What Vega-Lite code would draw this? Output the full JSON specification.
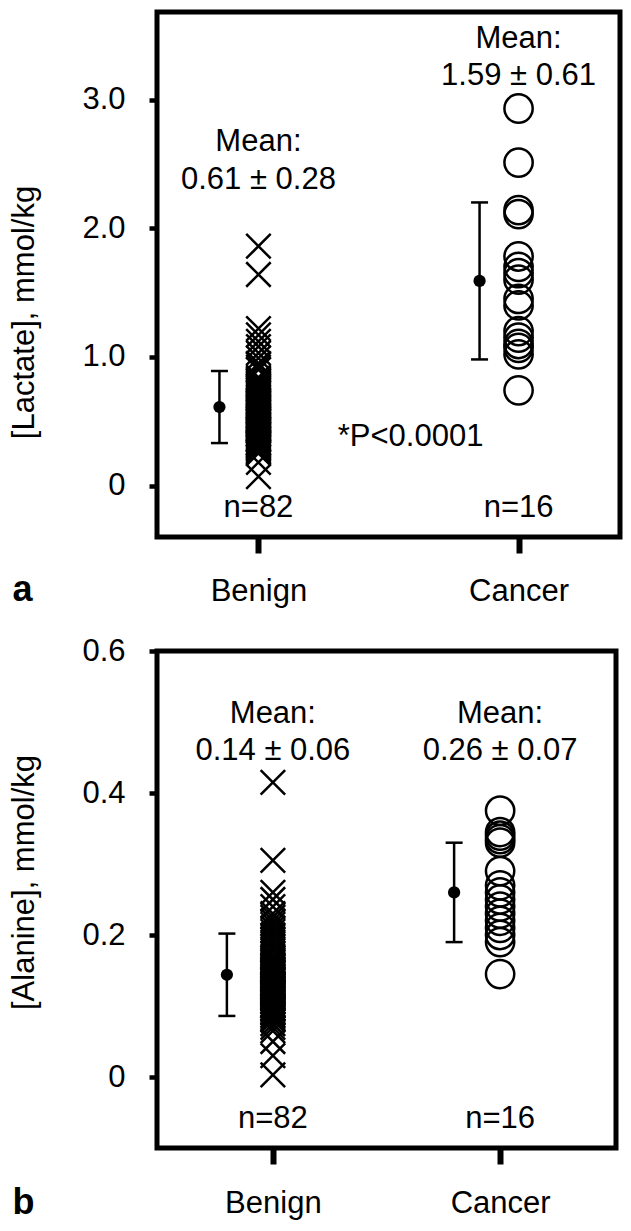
{
  "$schema": "https://vega.github.io/schema/vega-lite/v6.json",
  "autosize": {"type": "none"},
  "padding": {"left": 157, "top": 12, "right": 474, "bottom": 1219},
  "background": "white",
  "bounds": "flush",
  "spacing": 114,
  "config": {
    "font": "Liberation Sans",
    "view": {"stroke": "black", "strokeWidth": 5},
    "axis": {"domain": false, "grid": false, "tickColor": "black", "labelColor": "black", "labelFont": "Liberation Sans", "titleFont": "Liberation Sans", "titleColor": "black", "labelFontSize": 31, "titleFontSize": 31},
    "text": {"font": "Liberation Sans", "fontSize": 31, "baseline": "alphabetic", "align": "center", "color": "black"}
  },
  "datasets": {
    "lactate": [
      {"group": "Benign", "value": 1.86}, {"group": "Benign", "value": 1.64}, {"group": "Benign", "value": 1.22}, {"group": "Benign", "value": 1.17}, {"group": "Benign", "value": 1.12}, {"group": "Benign", "value": 1.08}, {"group": "Benign", "value": 1.03}, {"group": "Benign", "value": 0.99}, {"group": "Benign", "value": 0.18}, {"group": "Benign", "value": 0.07},
      {"group": "Benign", "value": 0.25}, {"group": "Benign", "value": 0.26}, {"group": "Benign", "value": 0.28}, {"group": "Benign", "value": 0.29}, {"group": "Benign", "value": 0.30}, {"group": "Benign", "value": 0.31}, {"group": "Benign", "value": 0.32}, {"group": "Benign", "value": 0.33}, {"group": "Benign", "value": 0.34}, {"group": "Benign", "value": 0.35},
      {"group": "Benign", "value": 0.36}, {"group": "Benign", "value": 0.37}, {"group": "Benign", "value": 0.38}, {"group": "Benign", "value": 0.39}, {"group": "Benign", "value": 0.40}, {"group": "Benign", "value": 0.41}, {"group": "Benign", "value": 0.42}, {"group": "Benign", "value": 0.43}, {"group": "Benign", "value": 0.44}, {"group": "Benign", "value": 0.45},
      {"group": "Benign", "value": 0.46}, {"group": "Benign", "value": 0.47}, {"group": "Benign", "value": 0.48}, {"group": "Benign", "value": 0.49}, {"group": "Benign", "value": 0.50}, {"group": "Benign", "value": 0.51}, {"group": "Benign", "value": 0.52}, {"group": "Benign", "value": 0.53}, {"group": "Benign", "value": 0.54}, {"group": "Benign", "value": 0.55},
      {"group": "Benign", "value": 0.56}, {"group": "Benign", "value": 0.57}, {"group": "Benign", "value": 0.58}, {"group": "Benign", "value": 0.59}, {"group": "Benign", "value": 0.60}, {"group": "Benign", "value": 0.61}, {"group": "Benign", "value": 0.62}, {"group": "Benign", "value": 0.63}, {"group": "Benign", "value": 0.64}, {"group": "Benign", "value": 0.65},
      {"group": "Benign", "value": 0.66}, {"group": "Benign", "value": 0.67}, {"group": "Benign", "value": 0.68}, {"group": "Benign", "value": 0.69}, {"group": "Benign", "value": 0.70}, {"group": "Benign", "value": 0.71}, {"group": "Benign", "value": 0.72}, {"group": "Benign", "value": 0.73}, {"group": "Benign", "value": 0.74}, {"group": "Benign", "value": 0.75},
      {"group": "Benign", "value": 0.76}, {"group": "Benign", "value": 0.77}, {"group": "Benign", "value": 0.78}, {"group": "Benign", "value": 0.79}, {"group": "Benign", "value": 0.80}, {"group": "Benign", "value": 0.81}, {"group": "Benign", "value": 0.82}, {"group": "Benign", "value": 0.83}, {"group": "Benign", "value": 0.84}, {"group": "Benign", "value": 0.52},
      {"group": "Benign", "value": 0.33}, {"group": "Benign", "value": 0.36}, {"group": "Benign", "value": 0.90}, {"group": "Benign", "value": 0.92}, {"group": "Benign", "value": 0.94}, {"group": "Benign", "value": 0.95}, {"group": "Benign", "value": 0.40}, {"group": "Benign", "value": 0.42}, {"group": "Benign", "value": 0.44}, {"group": "Benign", "value": 0.50},
      {"group": "Benign", "value": 0.27}, {"group": "Benign", "value": 0.31},
      {"group": "Cancer", "value": 2.93}, {"group": "Cancer", "value": 2.51}, {"group": "Cancer", "value": 2.14}, {"group": "Cancer", "value": 2.11}, {"group": "Cancer", "value": 1.78}, {"group": "Cancer", "value": 1.70}, {"group": "Cancer", "value": 1.65}, {"group": "Cancer", "value": 1.60},
      {"group": "Cancer", "value": 1.45}, {"group": "Cancer", "value": 1.40}, {"group": "Cancer", "value": 1.20}, {"group": "Cancer", "value": 1.15}, {"group": "Cancer", "value": 1.10}, {"group": "Cancer", "value": 1.07}, {"group": "Cancer", "value": 1.02}, {"group": "Cancer", "value": 0.74}
    ],
    "lactateStats": [
      {"group": "Benign", "mean": 0.61, "lo": 0.33, "hi": 0.89},
      {"group": "Cancer", "mean": 1.59, "lo": 0.98, "hi": 2.20}
    ],
    "alanine": [
      {"group": "Benign", "value": 0.415}, {"group": "Benign", "value": 0.305}, {"group": "Benign", "value": 0.26}, {"group": "Benign", "value": 0.25}, {"group": "Benign", "value": 0.24}, {"group": "Benign", "value": 0.003}, {"group": "Benign", "value": 0.03}, {"group": "Benign", "value": 0.05}, {"group": "Benign", "value": 0.065},
      {"group": "Benign", "value": 0.070}, {"group": "Benign", "value": 0.075}, {"group": "Benign", "value": 0.080}, {"group": "Benign", "value": 0.085}, {"group": "Benign", "value": 0.090}, {"group": "Benign", "value": 0.095}, {"group": "Benign", "value": 0.100}, {"group": "Benign", "value": 0.105}, {"group": "Benign", "value": 0.110}, {"group": "Benign", "value": 0.115},
      {"group": "Benign", "value": 0.120}, {"group": "Benign", "value": 0.125}, {"group": "Benign", "value": 0.130}, {"group": "Benign", "value": 0.135}, {"group": "Benign", "value": 0.140}, {"group": "Benign", "value": 0.145}, {"group": "Benign", "value": 0.150}, {"group": "Benign", "value": 0.155}, {"group": "Benign", "value": 0.160}, {"group": "Benign", "value": 0.165},
      {"group": "Benign", "value": 0.170}, {"group": "Benign", "value": 0.175}, {"group": "Benign", "value": 0.180}, {"group": "Benign", "value": 0.185}, {"group": "Benign", "value": 0.190}, {"group": "Benign", "value": 0.195}, {"group": "Benign", "value": 0.200}, {"group": "Benign", "value": 0.205}, {"group": "Benign", "value": 0.210}, {"group": "Benign", "value": 0.215},
      {"group": "Benign", "value": 0.220}, {"group": "Benign", "value": 0.225}, {"group": "Benign", "value": 0.230},
      {"group": "Benign", "value": 0.082}, {"group": "Benign", "value": 0.087}, {"group": "Benign", "value": 0.092}, {"group": "Benign", "value": 0.097}, {"group": "Benign", "value": 0.102}, {"group": "Benign", "value": 0.107}, {"group": "Benign", "value": 0.112}, {"group": "Benign", "value": 0.117}, {"group": "Benign", "value": 0.122}, {"group": "Benign", "value": 0.127},
      {"group": "Benign", "value": 0.132}, {"group": "Benign", "value": 0.137}, {"group": "Benign", "value": 0.142}, {"group": "Benign", "value": 0.147}, {"group": "Benign", "value": 0.152}, {"group": "Benign", "value": 0.157}, {"group": "Benign", "value": 0.162}, {"group": "Benign", "value": 0.167},
      {"group": "Benign", "value": 0.091}, {"group": "Benign", "value": 0.096}, {"group": "Benign", "value": 0.101}, {"group": "Benign", "value": 0.106}, {"group": "Benign", "value": 0.111}, {"group": "Benign", "value": 0.116}, {"group": "Benign", "value": 0.121}, {"group": "Benign", "value": 0.126}, {"group": "Benign", "value": 0.131}, {"group": "Benign", "value": 0.136},
      {"group": "Benign", "value": 0.141}, {"group": "Benign", "value": 0.146}, {"group": "Benign", "value": 0.151}, {"group": "Benign", "value": 0.156},
      {"group": "Benign", "value": 0.10}, {"group": "Benign", "value": 0.11}, {"group": "Benign", "value": 0.12}, {"group": "Benign", "value": 0.13}, {"group": "Benign", "value": 0.118}, {"group": "Benign", "value": 0.128}, {"group": "Benign", "value": 0.138}, {"group": "Benign", "value": 0.148},
      {"group": "Cancer", "value": 0.375}, {"group": "Cancer", "value": 0.345}, {"group": "Cancer", "value": 0.34}, {"group": "Cancer", "value": 0.335}, {"group": "Cancer", "value": 0.33}, {"group": "Cancer", "value": 0.29}, {"group": "Cancer", "value": 0.27}, {"group": "Cancer", "value": 0.26},
      {"group": "Cancer", "value": 0.25}, {"group": "Cancer", "value": 0.24}, {"group": "Cancer", "value": 0.23}, {"group": "Cancer", "value": 0.22}, {"group": "Cancer", "value": 0.21}, {"group": "Cancer", "value": 0.20}, {"group": "Cancer", "value": 0.19}, {"group": "Cancer", "value": 0.145}
    ],
    "alanineStats": [
      {"group": "Benign", "mean": 0.144, "lo": 0.086, "hi": 0.202},
      {"group": "Cancer", "mean": 0.26, "lo": 0.19, "hi": 0.33}
    ]
  },
  "vconcat": [
    {
      "width": 463,
      "height": 525,
      "layer": [
        {
          "data": {"name": "lactate"},
          "transform": [{"filter": "datum.group == 'Benign'"}],
          "mark": {"type": "point", "shape": "M-1,-1L1,1M-1,1L1,-1", "size": 600, "strokeWidth": 2.5, "color": "black", "opacity": 1, "filled": false},
          "encoding": {
            "x": {"field": "group", "type": "nominal", "scale": {"type": "point", "domain": ["Benign", "Cancer"], "padding": 0.39},
              "axis": {"title": "a", "titleFontSize": 36, "titleFontWeight": "bold", "titleX": -145, "titleY": 63, "titleAlign": "left", "titleBaseline": "alphabetic", "labelAngle": 0, "tickSize": 16, "tickWidth": 6, "labelPadding": 23}},
            "y": {"field": "value", "type": "quantitative", "scale": {"domain": [-0.4, 3.68], "nice": false, "zero": false},
              "axis": {"title": "[Lactate], mmol/kg", "titleFontWeight": "normal", "values": [0, 1, 2, 3], "labelExpr": "datum.value == 0 ? '0' : format(datum.value, '.1f')", "tickSize": 8, "tickWidth": 4.5, "labelPadding": 24, "titleX": -124, "titleY": 300, "titleBaseline": "alphabetic"}}
          }
        },
        {
          "data": {"name": "lactate"},
          "transform": [{"filter": "datum.group == 'Cancer'"}],
          "mark": {"type": "point", "shape": "circle", "size": 800, "strokeWidth": 2.5, "color": "black", "opacity": 1, "filled": false},
          "encoding": {"x": {"field": "group", "type": "nominal"}, "y": {"field": "value", "type": "quantitative"}}
        },
        {
          "data": {"name": "lactateStats"},
          "mark": {"type": "rule", "strokeWidth": 2.5, "color": "black", "xOffset": -39},
          "encoding": {"x": {"field": "group", "type": "nominal"}, "y": {"field": "lo", "type": "quantitative"}, "y2": {"field": "hi"}}
        },
        {
          "data": {"name": "lactateStats"},
          "mark": {"type": "tick", "orient": "horizontal", "size": 17, "thickness": 2.5, "color": "black", "opacity": 1, "xOffset": -39},
          "encoding": {"x": {"field": "group", "type": "nominal"}, "y": {"field": "lo", "type": "quantitative"}}
        },
        {
          "data": {"name": "lactateStats"},
          "mark": {"type": "tick", "orient": "horizontal", "size": 17, "thickness": 2.5, "color": "black", "opacity": 1, "xOffset": -39},
          "encoding": {"x": {"field": "group", "type": "nominal"}, "y": {"field": "hi", "type": "quantitative"}}
        },
        {
          "data": {"name": "lactateStats"},
          "mark": {"type": "point", "shape": "circle", "filled": true, "size": 150, "color": "black", "opacity": 1, "xOffset": -39},
          "encoding": {"x": {"field": "group", "type": "nominal"}, "y": {"field": "mean", "type": "quantitative"}}
        },
        {
          "data": {"values": [{"group": "Cancer", "label": "Mean:"}]},
          "mark": {"type": "text"},
          "encoding": {"x": {"field": "group", "type": "nominal"}, "y": {"datum": 3.40}, "text": {"field": "label"}}
        },
        {
          "data": {"values": [{"group": "Cancer", "label": "1.59 ± 0.61"}]},
          "mark": {"type": "text"},
          "encoding": {"x": {"field": "group", "type": "nominal"}, "y": {"datum": 3.11}, "text": {"field": "label"}}
        },
        {
          "data": {"values": [{"group": "Benign", "label": "Mean:"}]},
          "mark": {"type": "text"},
          "encoding": {"x": {"field": "group", "type": "nominal"}, "y": {"datum": 2.60}, "text": {"field": "label"}}
        },
        {
          "data": {"values": [{"group": "Benign", "label": "0.61 ± 0.28"}]},
          "mark": {"type": "text"},
          "encoding": {"x": {"field": "group", "type": "nominal"}, "y": {"datum": 2.308}, "text": {"field": "label"}}
        },
        {
          "data": {"values": [{"group": "Cancer", "label": "*P<0.0001"}]},
          "mark": {"type": "text", "dx": -108},
          "encoding": {"x": {"field": "group", "type": "nominal"}, "y": {"datum": 0.308}, "text": {"field": "label"}}
        },
        {
          "data": {"values": [{"group": "Benign", "label": "n=82"}, {"group": "Cancer", "label": "n=16"}]},
          "mark": {"type": "text"},
          "encoding": {"x": {"field": "group", "type": "nominal"}, "y": {"datum": -0.241}, "text": {"field": "label"}}
        }
      ]
    },
    {
      "width": 459,
      "height": 497,
      "layer": [
        {
          "data": {"name": "alanine"},
          "transform": [{"filter": "datum.group == 'Benign'"}],
          "mark": {"type": "point", "shape": "M-1,-1L1,1M-1,1L1,-1", "size": 600, "strokeWidth": 2.5, "color": "black", "opacity": 1, "filled": false},
          "encoding": {
            "x": {"field": "group", "type": "nominal", "scale": {"type": "point", "domain": ["Benign", "Cancer"], "padding": 0.51},
              "axis": {"title": "b", "titleFontSize": 36, "titleFontWeight": "bold", "titleX": -145, "titleY": 65, "titleAlign": "left", "titleBaseline": "alphabetic", "labelAngle": 0, "tickSize": 16, "tickWidth": 6, "labelPadding": 24}},
            "y": {"field": "value", "type": "quantitative", "scale": {"domain": [-0.1, 0.6], "nice": false, "zero": false},
              "axis": {"title": "[Alanine], mmol/kg", "titleFontWeight": "normal", "values": [0, 0.2, 0.4, 0.6], "labelExpr": "datum.value == 0 ? '0' : format(datum.value, '.1f')", "tickSize": 8, "tickWidth": 4.5, "labelPadding": 24, "titleX": -124, "titleY": 231, "titleBaseline": "alphabetic"}}
          }
        },
        {
          "data": {"name": "alanine"},
          "transform": [{"filter": "datum.group == 'Cancer'"}],
          "mark": {"type": "point", "shape": "circle", "size": 800, "strokeWidth": 2.5, "color": "black", "opacity": 1, "filled": false},
          "encoding": {"x": {"field": "group", "type": "nominal"}, "y": {"field": "value", "type": "quantitative"}}
        },
        {
          "data": {"name": "alanineStats"},
          "mark": {"type": "rule", "strokeWidth": 2.5, "color": "black", "xOffset": -46},
          "encoding": {"x": {"field": "group", "type": "nominal"}, "y": {"field": "lo", "type": "quantitative"}, "y2": {"field": "hi"}}
        },
        {
          "data": {"name": "alanineStats"},
          "mark": {"type": "tick", "orient": "horizontal", "size": 17, "thickness": 2.5, "color": "black", "opacity": 1, "xOffset": -46},
          "encoding": {"x": {"field": "group", "type": "nominal"}, "y": {"field": "lo", "type": "quantitative"}}
        },
        {
          "data": {"name": "alanineStats"},
          "mark": {"type": "tick", "orient": "horizontal", "size": 17, "thickness": 2.5, "color": "black", "opacity": 1, "xOffset": -46},
          "encoding": {"x": {"field": "group", "type": "nominal"}, "y": {"field": "hi", "type": "quantitative"}}
        },
        {
          "data": {"name": "alanineStats"},
          "mark": {"type": "point", "shape": "circle", "filled": true, "size": 150, "color": "black", "opacity": 1, "xOffset": -46},
          "encoding": {"x": {"field": "group", "type": "nominal"}, "y": {"field": "mean", "type": "quantitative"}}
        },
        {
          "data": {"values": [{"group": "Benign", "label": "Mean:"}, {"group": "Cancer", "label": "Mean:"}]},
          "mark": {"type": "text"},
          "encoding": {"x": {"field": "group", "type": "nominal"}, "y": {"datum": 0.4985}, "text": {"field": "label"}}
        },
        {
          "data": {"values": [{"group": "Benign", "label": "0.14 ± 0.06"}, {"group": "Cancer", "label": "0.26 ± 0.07"}]},
          "mark": {"type": "text"},
          "encoding": {"x": {"field": "group", "type": "nominal"}, "y": {"datum": 0.4465}, "text": {"field": "label"}}
        },
        {
          "data": {"values": [{"group": "Benign", "label": "n=82"}, {"group": "Cancer", "label": "n=16"}]},
          "mark": {"type": "text"},
          "encoding": {"x": {"field": "group", "type": "nominal"}, "y": {"datum": -0.0715}, "text": {"field": "label"}}
        }
      ]
    }
  ]
}
